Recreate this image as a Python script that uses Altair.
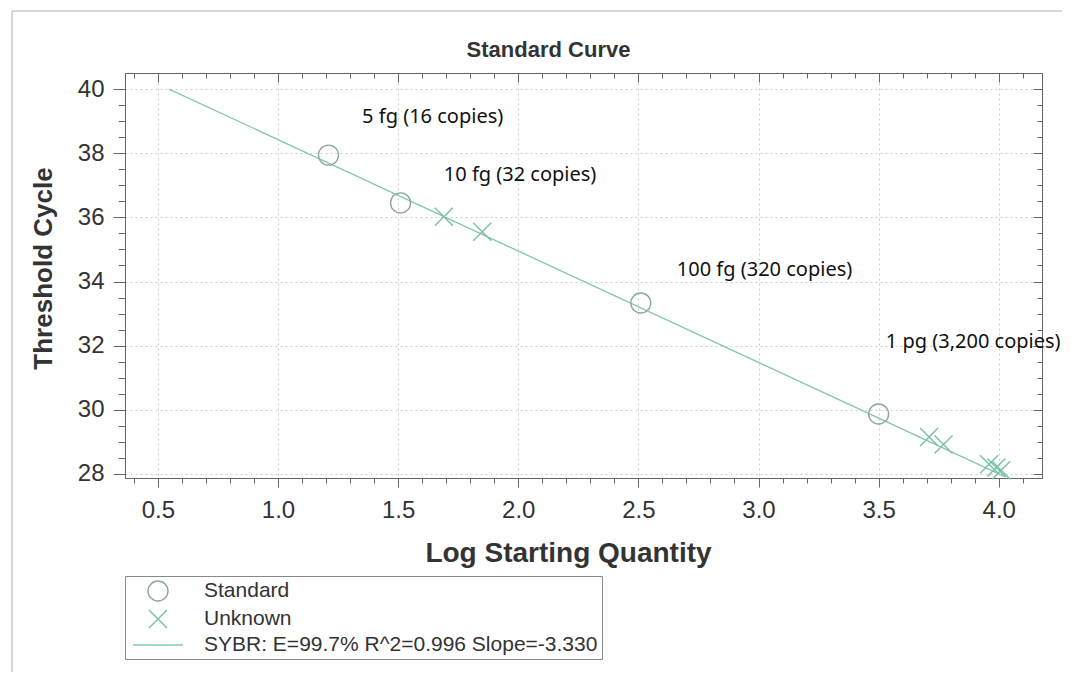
import altair as alt
import pandas as pd

# ---- data ----
std_x = [1.21, 1.51, 2.51, 3.50]
std_y = [37.94, 36.45, 33.33, 29.87]
unk_x = [1.69, 1.85, 3.71, 3.77, 3.96, 3.99, 4.01]
unk_y = [36.02, 35.55, 29.15, 28.92, 28.30, 28.20, 28.12]
fit_x = [0.546, 4.03]
fit_y = [40.0, 27.9]
series_names = ["Standard", "Unknown", "SYBR: E=99.7% R^2=0.996 Slope=-3.330"]
ann_text = ["5 fg (16 copies)", "10 fg (32 copies)", "100 fg (320 copies)", "1 pg (3,200 copies)"]
ann_x = [1.35, 1.69, 2.66, 3.53]
ann_y = [39.13, 37.32, 34.36, 32.11]
x_ticks = [0.4, 0.5, 0.6, 0.7, 0.8, 0.9, 1.0, 1.1, 1.2, 1.3, 1.4, 1.5, 1.6, 1.7, 1.8, 1.9,
           2.0, 2.1, 2.2, 2.3, 2.4, 2.5, 2.6, 2.7, 2.8, 2.9, 3.0, 3.1, 3.2, 3.3, 3.4, 3.5,
           3.6, 3.7, 3.8, 3.9, 4.0, 4.1]
y_ticks = [28.0, 28.5, 29.0, 29.5, 30.0, 30.5, 31.0, 31.5, 32.0, 32.5, 33.0, 33.5, 34.0,
           34.5, 35.0, 35.5, 36.0, 36.5, 37.0, 37.5, 38.0, 38.5, 39.0, 39.5, 40.0]

W, H = 917, 405
FONT = "Liberation Sans"
AX = "#666666"
TXT = "#333333"

pts = pd.DataFrame({
    "x": std_x + unk_x,
    "y": std_y + unk_y,
    "series": [series_names[0]] * len(std_x) + [series_names[1]] * len(unk_x),
})
fit = pd.DataFrame({"x": fit_x, "y": fit_y, "series": [series_names[2]] * len(fit_x)})
ann = pd.DataFrame({"x": ann_x, "y": ann_y, "label": ann_text})
one = pd.DataFrame({"k": [0]})

xscale = alt.Scale(domain=[0.363, 4.18], nice=False, zero=False)
yscale = alt.Scale(domain=[27.875, 40.5], nice=False, zero=False)

x_major = "abs(datum.value*2 - round(datum.value*2)) < 0.01"
y_major = "abs(datum.value/2 - round(datum.value/2)) < 0.01"

legend = alt.Legend(
    orient="none", legendX=0, legendY=503, title=None,
    strokeColor="#888888", fillColor="white", padding=4,
    labelFont=FONT, labelFontSize=21, labelColor=TXT, labelOffset=35, labelLimit=700,
    rowPadding=3, symbolStrokeWidth=1.4, symbolOffset=18, symbolSize=400,
)
color_scale = alt.Scale(domain=series_names, range=["#8aa89b", "#78bfa3", "#86c6ae"])
shape_scale = alt.Scale(domain=series_names,
                        range=["circle", "M-0.9,-0.9L0.9,0.9M-0.9,0.9L0.9,-0.9", "M-2.5,0H2.5"])

bottom_axis = alt.Axis(
    values=x_ticks, orient="bottom", title="Log Starting Quantity",
    labelExpr=f"{x_major} ? format(datum.value, '.1f') : ''",
    tickSize={"condition": {"test": x_major, "value": 9}, "value": 5},
    grid=True, gridColor="#cccccc", gridDash=[2, 3],
    gridOpacity={"condition": {"test": x_major, "value": 1}, "value": 0},
    labelFont=FONT, labelFontSize=24, labelColor=TXT, labelPadding=11,
    labelOverlap=False, labelFlush=False,
    domainColor=AX, tickColor=AX,
    titleFont=FONT, titleFontSize=28, titleFontWeight="bold", titleColor=TXT,
    titleX=443, titleY=75, titleBaseline="middle", titleAlign="center",
)
left_axis = alt.Axis(
    values=y_ticks, orient="left", title="Threshold Cycle",
    labelExpr=f"{y_major} ? format(datum.value, 'd') : ''",
    tickSize={"condition": {"test": y_major, "value": 12}, "value": 7},
    grid=True, gridColor="#cccccc", gridDash=[2, 3],
    gridOpacity={"condition": {"test": y_major, "value": 1}, "value": 0},
    labelFont=FONT, labelFontSize=24, labelColor=TXT, labelPadding=9,
    labelOverlap=False, labelFlush=False,
    domainColor=AX, tickColor=AX,
    titleFont=FONT, titleFontSize=26, titleFontWeight="bold", titleColor=TXT,
    titleX=-82, titleY=195, titleAngle=270, titleBaseline="middle", titleAlign="center",
)
top_axis = alt.Axis(
    values=x_ticks, orient="bottom", offset=-H, labels=False, title=None, grid=False,
    tickSize={"condition": {"test": x_major, "value": 9}, "value": 5},
    domainColor=AX, tickColor=AX,
)
right_axis = alt.Axis(
    values=y_ticks, orient="left", offset=-W, labels=False, title=None, grid=False,
    tickSize={"condition": {"test": y_major, "value": 9}, "value": 5},
    domainColor=AX, tickColor=AX,
)

frame_left = alt.Chart(one).mark_rule(color="#b0b0b0", strokeWidth=1).encode(
    x=alt.value(-113), y=alt.value(-62), y2=alt.value(H + 200))
frame_top = alt.Chart(one).mark_rule(color="#b0b0b0", strokeWidth=1).encode(
    x=alt.value(-113), x2=alt.value(W + 20), y=alt.value(-62))

line = alt.Chart(fit).mark_line(strokeWidth=1.3).encode(
    x=alt.X("x:Q", scale=xscale, axis=top_axis),
    y=alt.Y("y:Q", scale=yscale, axis=right_axis),
    color=alt.Color("series:N", scale=color_scale, legend=legend),
)

points = alt.Chart(pts).mark_point(filled=False, strokeWidth=1.4, opacity=1, size=400).encode(
    x=alt.X("x:Q", scale=xscale, axis=bottom_axis),
    y=alt.Y("y:Q", scale=yscale, axis=left_axis),
    color=alt.Color("series:N", scale=color_scale, legend=legend),
    shape=alt.Shape("series:N", scale=shape_scale, legend=legend),
)

labels = alt.Chart(ann).mark_text(
    align="left", baseline="middle", font="Noto Sans", fontSize=20, color="#111111"
).encode(
    x=alt.X("x:Q", scale=xscale, axis=None),
    y=alt.Y("y:Q", scale=yscale, axis=None),
    text="label:N",
)

chart = alt.layer(frame_left, frame_top, line, points, labels).resolve_axis(
    x="independent", y="independent"
).properties(
    width=W, height=H,
    autosize=alt.AutoSizeParams(type="none"),
    padding={"left": 117, "top": 65, "right": 24, "bottom": 194},
    title=alt.Title("Standard Curve", font=FONT, fontSize=22, fontWeight="bold", color=TXT,
                    anchor="middle", frame="group", offset=12, dx=-35, dy=63),
).configure_view(strokeWidth=0).configure(background="white")

chart.save("out.html", embed_options={"renderer": "svg", "actions": False})
